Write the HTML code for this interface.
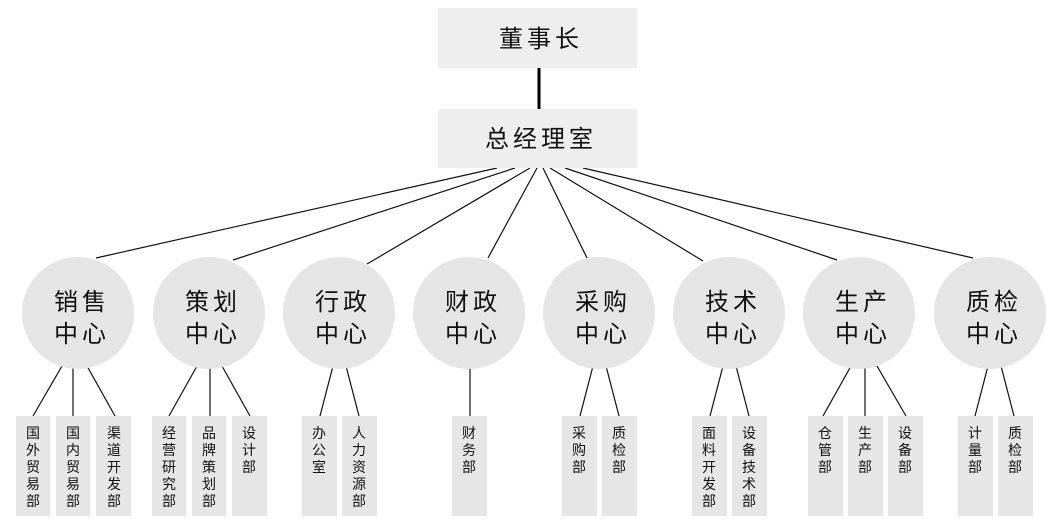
<!DOCTYPE html>
<html><head><meta charset="utf-8"><style>
html,body{margin:0;padding:0;background:#fff;}
svg{display:block;font-family:"Liberation Sans","Noto Sans CJK SC",sans-serif;}
</style></head><body>
<svg width="1061" height="525" viewBox="0 0 1061 525">
<g stroke="#111" stroke-width="1.2" fill="none">
<line x1="497" y1="168" x2="96" y2="258"/>
<line x1="515" y1="168" x2="233" y2="260"/>
<line x1="530" y1="168" x2="367" y2="264"/>
<line x1="537" y1="168" x2="488" y2="258"/>
<line x1="543" y1="168" x2="587" y2="258"/>
<line x1="550" y1="168" x2="703" y2="261"/>
<line x1="565" y1="168" x2="837" y2="260"/>
<line x1="583" y1="168" x2="973" y2="258"/>
<!-- bottom connectors -->
<line x1="62" y1="366" x2="33" y2="416"/><line x1="73" y1="366" x2="73" y2="416"/><line x1="87" y1="366" x2="115" y2="416"/>
<line x1="197" y1="366" x2="169" y2="416"/><line x1="210" y1="366" x2="210" y2="416"/><line x1="222" y1="366" x2="250" y2="416"/>
<line x1="333" y1="366" x2="320" y2="416"/><line x1="346" y1="366" x2="359" y2="416"/>
<line x1="470" y1="366" x2="470" y2="416"/>
<line x1="593" y1="366" x2="580" y2="416"/><line x1="606" y1="366" x2="619" y2="416"/>
<line x1="723" y1="366" x2="710" y2="416"/><line x1="736" y1="366" x2="749" y2="416"/>
<line x1="851" y1="366" x2="823" y2="416"/><line x1="865" y1="366" x2="865" y2="416"/><line x1="877" y1="366" x2="906" y2="416"/>
<line x1="988" y1="366" x2="975" y2="416"/><line x1="1001" y1="366" x2="1014" y2="416"/>
</g>
<line x1="539" y1="68" x2="539" y2="109" stroke="#000" stroke-width="3"/>
<rect x="438" y="8" width="199" height="60" fill="#eeeeee"/>
<rect x="438" y="109" width="199" height="59" fill="#eeeeee"/>
<g font-size="24" fill="#111" text-anchor="middle" letter-spacing="4">
<text x="541" y="47">董事长</text>
<text x="541" y="147">总经理室</text>
</g>
<g fill="#e5e5e5">
<circle cx="78" cy="313" r="56"/><circle cx="209" cy="313" r="56"/><circle cx="339" cy="313" r="56"/><circle cx="469" cy="313" r="56"/>
<circle cx="599" cy="313" r="56"/><circle cx="729" cy="313" r="56"/><circle cx="859" cy="313" r="56"/><circle cx="990" cy="313" r="56"/>
</g>
<g font-size="24" fill="#111" text-anchor="middle" letter-spacing="4">
<text x="82" y="310">销售</text><text x="82" y="342">中心</text>
<text x="213" y="310">策划</text><text x="213" y="342">中心</text>
<text x="343" y="310">行政</text><text x="343" y="342">中心</text>
<text x="473" y="310">财政</text><text x="473" y="342">中心</text>
<text x="603" y="310">采购</text><text x="603" y="342">中心</text>
<text x="733" y="310">技术</text><text x="733" y="342">中心</text>
<text x="863" y="310">生产</text><text x="863" y="342">中心</text>
<text x="994" y="310">质检</text><text x="994" y="342">中心</text>
</g>
<g fill="#e6e6e6">
<rect x="16" y="416" width="34" height="100"/><rect x="56" y="416" width="34" height="100"/><rect x="96" y="416" width="35" height="100"/>
<rect x="152" y="416" width="34" height="100"/><rect x="192" y="416" width="34" height="100"/><rect x="232" y="416" width="35" height="100"/>
<rect x="302" y="416" width="35" height="100"/><rect x="342" y="416" width="35" height="100"/>
<rect x="452" y="416" width="35" height="100"/>
<rect x="562" y="416" width="35" height="100"/><rect x="602" y="416" width="35" height="100"/>
<rect x="692" y="416" width="35" height="100"/><rect x="732" y="416" width="35" height="100"/>
<rect x="808" y="416" width="35" height="100"/><rect x="848" y="416" width="35" height="100"/><rect x="888" y="416" width="35" height="100"/>
<rect x="958" y="416" width="35" height="100"/><rect x="998" y="416" width="35" height="100"/>
</g>
<g font-size="14" fill="#111" text-anchor="middle">
<text x="33" y="438">国</text><text x="33" y="455">外</text><text x="33" y="472">贸</text><text x="33" y="489">易</text><text x="33" y="506">部</text>
<text x="73" y="438">国</text><text x="73" y="455">内</text><text x="73" y="472">贸</text><text x="73" y="489">易</text><text x="73" y="506">部</text>
<text x="114" y="438">渠</text><text x="114" y="455">道</text><text x="114" y="472">开</text><text x="114" y="489">发</text><text x="114" y="506">部</text>
<text x="169" y="438">经</text><text x="169" y="455">营</text><text x="169" y="472">研</text><text x="169" y="489">究</text><text x="169" y="506">部</text>
<text x="209" y="438">品</text><text x="209" y="455">牌</text><text x="209" y="472">策</text><text x="209" y="489">划</text><text x="209" y="506">部</text>
<text x="249" y="438">设</text><text x="249" y="455">计</text><text x="249" y="472">部</text>
<text x="319" y="438">办</text><text x="319" y="455">公</text><text x="319" y="472">室</text>
<text x="359" y="438">人</text><text x="359" y="455">力</text><text x="359" y="472">资</text><text x="359" y="489">源</text><text x="359" y="506">部</text>
<text x="469" y="438">财</text><text x="469" y="455">务</text><text x="469" y="472">部</text>
<text x="579" y="438">采</text><text x="579" y="455">购</text><text x="579" y="472">部</text>
<text x="619" y="438">质</text><text x="619" y="455">检</text><text x="619" y="472">部</text>
<text x="709" y="438">面</text><text x="709" y="455">料</text><text x="709" y="472">开</text><text x="709" y="489">发</text><text x="709" y="506">部</text>
<text x="749" y="438">设</text><text x="749" y="455">备</text><text x="749" y="472">技</text><text x="749" y="489">术</text><text x="749" y="506">部</text>
<text x="825" y="438">仓</text><text x="825" y="455">管</text><text x="825" y="472">部</text>
<text x="865" y="438">生</text><text x="865" y="455">产</text><text x="865" y="472">部</text>
<text x="905" y="438">设</text><text x="905" y="455">备</text><text x="905" y="472">部</text>
<text x="975" y="438">计</text><text x="975" y="455">量</text><text x="975" y="472">部</text>
<text x="1015" y="438">质</text><text x="1015" y="455">检</text><text x="1015" y="472">部</text>
</g>
</svg>
</body></html>
